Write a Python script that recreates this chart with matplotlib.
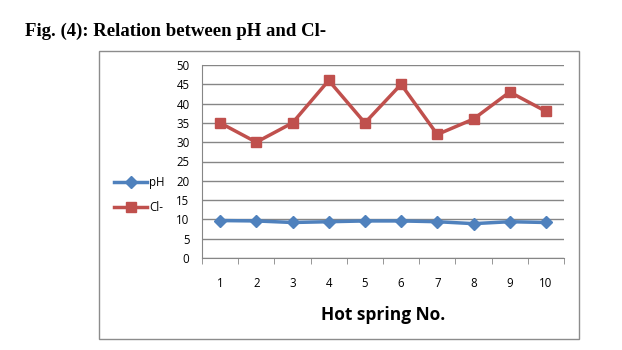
import matplotlib.pyplot as plt
from matplotlib.patches import Rectangle

springs = [1, 2, 3, 4, 5, 6, 7, 8, 9, 10]
ph = [9.7, 9.6, 9.2, 9.4, 9.6, 9.6, 9.4, 8.9, 9.4, 9.2]
cl = [35, 30, 35, 46, 35, 45, 32, 36, 43, 38]
y_ticks = [0, 5, 10, 15, 20, 25, 30, 35, 40, 45, 50]

W, H = 622, 350
fig = plt.figure(figsize=(W / 100, H / 100), dpi=100)

fig.text(25 / W, 1 - 31 / H, 'Fig. (4): Relation between pH and Cl-',
         family='Liberation Serif', weight='bold', fontsize=13.5, va='center')

# chart frame
fig.patches.append(Rectangle((99 / W, 1 - 339 / H), 480 / W, 288 / H,
                             transform=fig.transFigure, fill=False,
                             edgecolor='#8c8c8c', lw=1))

ax = fig.add_axes([202 / W, 1 - 258 / H, 362 / W, 193 / H])
ax.plot(springs, ph, color='#4F81BD', lw=2.5, marker='D', ms=6, label='pH')
ax.plot(springs, cl, color='#C0504D', lw=2.5, marker='s', ms=7.5, label='Cl-')

ax.set_xlim(0.5, 10.5)
ax.set_ylim(0, 50)
ax.set_yticks(y_ticks)
ax.yaxis.grid(True, color='#868686', lw=1)
ax.set_axisbelow(True)
ax.tick_params(axis='y', length=0, pad=9, labelsize=8.3)
ax.set_xticks(springs)
ax.set_xticks([i + 0.5 for i in range(0, 11)], minor=True)
ax.tick_params(axis='x', which='major', length=0, pad=14, labelsize=8.3)
ax.tick_params(axis='x', which='minor', length=4, color='#868686')
for lab in ax.get_xticklabels() + ax.get_yticklabels():
    lab.set_family('Open Sans')
for side in ['top', 'right']:
    ax.spines[side].set_visible(False)
for side in ['left', 'bottom']:
    ax.spines[side].set_color('#868686')

ax.set_xlabel('Hot spring No.', family='Open Sans', weight='bold',
              fontsize=12.5, labelpad=11)

fig.legend(loc='center left', bbox_to_anchor=(104 / W, 1 - 195 / H),
           frameon=False, prop={'family': 'Open Sans', 'size': 8.3},
           handlelength=2.8, labelspacing=1.0, handletextpad=0.2)

fig.savefig('out.png', dpi=100)
